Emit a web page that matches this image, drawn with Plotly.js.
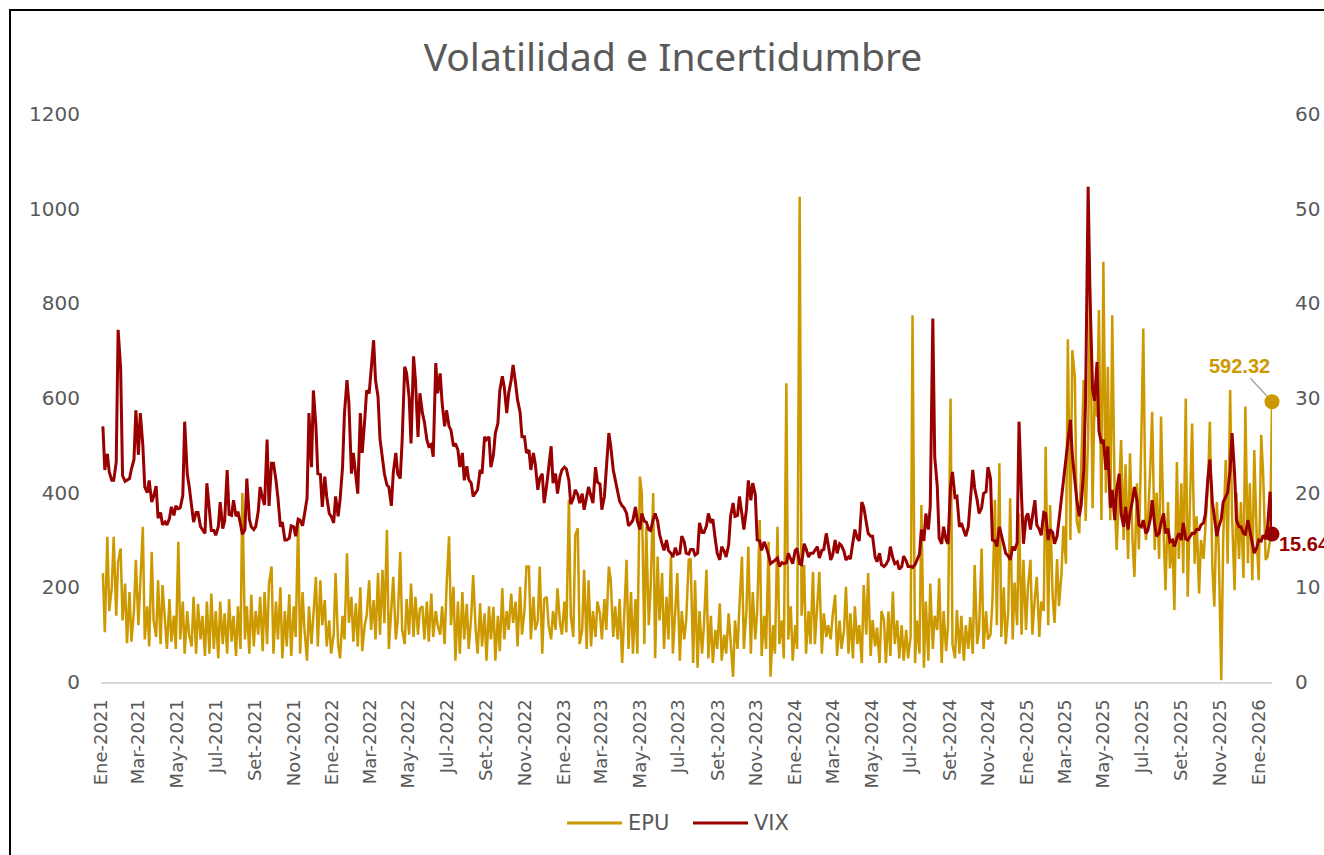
<!DOCTYPE html>
<html>
<head>
<meta charset="utf-8">
<script src="https://cdn.plot.ly/plotly-3.0.1.min.js"></script>
<style>
  html, body { margin: 0; padding: 0; background: #fff; overflow: hidden; width: 1324px; height: 855px; }
  #frame { position: absolute; left: 9px; top: 9px; width: 1400px; height: 900px; border-left: 2px solid #000; border-top: 2px solid #000; }
  #plot { position: absolute; left: 0; top: 0; width: 1360px; height: 855px; }
</style>
</head>
<body>
<div id="frame"></div>
<div id="plot"></div>
<script>
// EPU (eje izq.) y VIX (eje der.), lunes y jueves desde 2021-01-04, 8 valores por fila = 4 semanas
var epu = [
  230, 105, 307, 150, 200, 307, 140, 254,
  282, 130, 208, 82, 190, 85, 150, 258,
  120, 200, 328, 90, 160, 75, 275, 130,
  95, 215, 80, 205, 120, 70, 175, 85,
  140, 70, 296, 90, 170, 60, 150, 100,
  75, 180, 60, 165, 90, 140, 55, 170,
  60, 187, 70, 150, 50, 170, 80, 145,
  60, 175, 85, 140, 55, 160, 70, 399,
  90, 160, 60, 184, 75, 150, 100, 180,
  65, 190, 80, 208, 244, 60, 170, 90,
  200, 50, 150, 75, 185, 55, 160, 95,
  340, 60, 190, 110, 45, 160, 80, 140,
  222, 75, 215, 120, 173, 75, 130, 60,
  100, 230, 80, 50, 140, 90, 272, 125,
  180, 85, 166, 75, 200, 65, 120, 140,
  215, 110, 173, 90, 230, 100, 237, 124,
  321, 70, 150, 222, 90, 130, 275, 110,
  80, 175, 100, 208, 95, 180, 100, 155,
  160, 90, 170, 85, 187, 95, 150, 120,
  100, 160, 80, 200, 308, 120, 201, 45,
  170, 60, 190, 90, 165, 70, 140, 226,
  110, 60, 166, 75, 145, 45, 160, 90,
  159, 45, 140, 65, 198, 90, 150, 110,
  187, 125, 170, 75, 201, 100, 152, 244,
  244, 90, 180, 110, 130, 244, 60, 175,
  180, 120, 90, 150, 110, 198, 125, 100,
  170, 105, 385, 140, 95, 310, 325, 80,
  110, 237, 70, 215, 75, 150, 95, 170,
  145, 90, 175, 110, 244, 215, 95, 160,
  90, 175, 40, 120, 258, 70, 190, 60,
  175, 60, 434, 399, 80, 328, 120, 200,
  399, 50, 265, 130, 230, 70, 180, 90,
  265, 60, 160, 230, 45, 150, 90, 130,
  258, 261, 40, 215, 30, 150, 60, 120,
  237, 50, 140, 40, 110, 70, 166, 45,
  100, 60, 145, 85, 11, 130, 70, 160,
  265, 70, 150, 286, 60, 190, 90, 150,
  342, 55, 140, 70, 296, 11, 120, 60,
  328, 80, 130, 50, 631, 90, 160, 45,
  120, 70, 1025, 140, 247, 60, 150, 80,
  233, 80, 170, 233, 60, 145, 95, 120,
  90, 140, 184, 55, 130, 70, 110, 201,
  60, 145, 50, 160, 80, 120, 40, 205,
  100, 230, 55, 131, 75, 115, 40, 150,
  131, 40, 149, 55, 191, 80, 130, 50,
  120, 45, 110, 50, 95, 775, 40, 130,
  60, 374, 30, 170, 45, 208, 70, 140,
  110, 219, 40, 150, 65, 120, 599, 80,
  50, 152, 60, 140, 45, 120, 70, 137,
  60, 247, 80, 110, 282, 70, 150, 90,
  100, 170, 385, 120, 462, 95, 200, 80,
  150, 388, 90, 210, 120, 356, 100, 258,
  110, 200, 258, 100, 180, 222, 95, 170,
  150, 497, 120, 374, 180, 125, 260, 160,
  230, 330, 250, 724, 300, 701, 645, 340,
  314, 470, 638, 340, 520, 832, 367, 600,
  560, 786, 342, 888, 400, 666, 342, 775,
  380, 279, 420, 511, 300, 460, 260, 483,
  300, 222, 420, 280, 520, 747, 300, 332,
  450, 571, 279, 400, 260, 561, 320, 194,
  380, 240, 300, 152, 465, 260, 420, 230,
  599, 180, 400, 546, 250, 350, 187, 300,
  260, 335, 420, 550, 240, 159, 380, 280,
  4, 300, 469, 250, 617, 350, 194, 400,
  260, 380, 220, 582, 251, 420, 215, 490,
  300, 215, 522, 441, 258, 265, 300, 592.32
];

var vix = [
  27.0, 22.4, 24.1, 22.2, 21.3, 21.3, 23.2, 37.2,
  33.1, 21.8, 21.2, 21.3, 21.5, 22.5, 23.5, 28.7,
  24.0, 28.4, 25.0, 20.6, 20.0, 21.3, 19.0, 19.6,
  20.7, 17.3, 17.9, 16.6, 16.9, 16.6, 17.3, 18.5,
  17.6, 18.6, 18.3, 18.4, 19.7, 27.5, 22.0, 20.7,
  18.4, 16.9, 17.9, 17.9, 16.4, 16.1, 15.7, 21.0,
  17.9, 16.0, 16.0, 15.5, 16.4, 19.0, 16.2, 17.0,
  22.4, 17.7, 17.6, 19.2, 17.5, 18.0, 16.7, 15.6,
  16.1, 21.5, 17.2, 16.4, 16.1, 16.4, 18.0, 20.6,
  19.4, 18.7, 25.6, 18.6, 23.1, 23.1, 21.3, 19.5,
  16.4, 16.9, 15.0, 15.0, 15.2, 16.5, 16.4, 15.4,
  17.2, 17.1, 16.5, 17.6, 19.4, 28.4, 22.7, 30.8,
  27.0, 22.0, 21.9, 18.5, 21.7, 19.6, 17.8, 17.5,
  16.8, 19.6, 17.5, 19.2, 22.7, 28.4, 31.9, 29.5,
  22.0, 24.2, 21.3, 19.9, 28.4, 24.2, 27.7, 30.8,
  30.5, 33.0, 36.1, 31.9, 30.1, 25.7, 23.5, 22.0,
  20.8, 20.6, 18.6, 22.1, 24.2, 22.0, 21.5, 25.5,
  33.3, 32.6, 30.1, 25.2, 34.4, 31.9, 25.9, 30.5,
  28.4, 27.5, 25.6, 24.9, 25.1, 23.8, 33.7, 30.5,
  32.6, 29.5, 27.0, 28.7, 27.0, 26.6, 24.9, 25.2,
  24.5, 22.7, 24.2, 21.3, 22.8, 21.4, 21.0, 19.6,
  20.0, 20.3, 22.4, 22.0, 25.9, 25.6, 25.9, 22.7,
  24.0, 26.3, 27.3, 30.8, 32.3, 31.2, 28.4, 30.5,
  31.9, 33.5, 31.5, 29.8, 28.5, 25.9, 25.9, 24.2,
  24.5, 22.4, 24.2, 23.0, 20.3, 21.5, 22.0, 18.9,
  20.8, 22.7, 24.9, 21.0, 22.0, 19.9, 21.7, 22.4,
  22.7, 22.5, 21.3, 18.8, 19.4, 20.3, 19.8, 18.9,
  19.9, 18.2, 19.4, 20.6, 19.6, 18.9, 22.7, 21.1,
  20.9, 18.2, 19.6, 22.6, 26.3, 24.9, 22.4, 21.4,
  20.0, 19.1, 18.6, 18.4, 17.8, 16.5, 16.8, 17.1,
  18.5, 17.0, 16.1, 17.8, 17.0, 16.9, 16.1, 16.0,
  17.2, 17.8, 17.0, 15.6, 14.6, 13.9, 15.0, 13.9,
  13.6, 13.2, 14.2, 13.5, 13.6, 15.4, 14.8, 13.6,
  13.5, 14.0, 14.0, 13.4, 13.6, 16.8, 15.8, 15.8,
  16.5, 17.8, 16.8, 17.2, 15.0, 13.6, 12.9, 14.3,
  13.8, 13.2, 14.5, 17.5, 18.9, 17.5, 17.6, 19.6,
  17.7, 16.1, 18.2, 21.3, 19.2, 21.0, 19.8, 15.0,
  14.9, 13.9, 14.8, 14.3, 13.4, 12.5, 12.7, 12.9,
  13.1, 12.2, 12.6, 12.5, 12.6, 13.6, 13.0, 12.5,
  13.9, 14.1, 12.5, 12.4, 14.6, 14.1, 13.2, 13.6,
  13.6, 13.9, 14.3, 13.1, 13.9, 14.0, 15.7, 14.5,
  12.9, 13.4, 15.0, 13.6, 14.6, 14.4, 13.8, 12.9,
  13.2, 13.0, 14.6, 16.1, 15.2, 14.9, 19.0, 18.5,
  16.9, 15.7, 15.4, 15.4, 13.2, 12.7, 13.6, 12.4,
  12.2, 12.4, 12.9, 14.3, 13.1, 12.5, 12.7, 11.9,
  12.2, 13.3, 12.8, 12.2, 12.2, 12.1, 12.4, 12.9,
  13.5, 16.1, 14.9, 17.8, 16.1, 18.6, 38.4, 23.8,
  20.7, 15.2, 14.6, 16.4, 15.0, 14.6, 20.7, 22.2,
  19.5, 19.6, 16.4, 16.8, 15.9, 15.4, 16.4, 19.2,
  22.4, 20.5, 19.2, 17.8, 18.4, 19.9, 20.1, 22.7,
  21.5, 15.0, 14.9, 14.3, 16.4, 15.6, 14.3, 13.6,
  13.3, 12.9, 14.3, 13.9, 14.7, 27.5, 19.5, 14.6,
  17.4, 17.8, 16.1, 17.7, 19.2, 16.6, 16.1, 15.5,
  17.9, 17.8, 15.0, 16.1, 15.8, 14.6, 15.4, 17.1,
  19.5, 21.1, 23.1, 24.9, 27.7, 24.0, 21.3, 19.3,
  17.5, 18.7, 22.3, 30.0, 52.3, 40.7, 30.9, 29.7,
  33.8, 26.5, 25.2, 25.6, 22.4, 24.9, 18.4, 20.3,
  17.1, 20.3, 22.0, 17.8, 16.4, 18.5, 16.1, 17.8,
  19.2, 20.6, 19.2, 16.6, 16.4, 17.1, 15.7, 16.0,
  17.2, 19.2, 16.6, 15.4, 15.7, 16.8, 17.8, 15.7,
  16.2, 14.8, 15.0, 14.3, 15.2, 15.7, 15.0, 16.8,
  15.1, 15.0, 15.4, 15.7, 15.7, 16.1, 16.1, 16.6,
  16.8, 17.8, 21.7, 23.5, 19.0, 17.3, 15.4, 16.4,
  17.2, 19.0, 19.6, 20.0, 22.4, 26.3, 22.0, 17.1,
  16.4, 16.4, 15.7, 15.6, 17.1, 16.0, 14.3, 13.6,
  14.2, 15.0, 14.9, 15.5, 15.1, 16.4, 20.1, 15.64
];

var series = ['EPU', 'VIX'];
var meses = ['Ene', 'Feb', 'Mar', 'Abr', 'May', 'Jun', 'Jul', 'Ago', 'Set', 'Oct', 'Nov', 'Dic'];

var colEpu = '#CC9900';
var colVix = '#990000';
var gris = '#595959';

// fechas: lunes y jueves
function fechas(n) {
  var out = [];
  var t0 = Date.UTC(2021, 0, 4);
  for (var i = 0; i < n; i++) {
    var d = new Date(t0 + (Math.floor(i / 2) * 7 + (i % 2) * 3) * 86400000);
    out.push(d.toISOString().slice(0, 10));
  }
  return out;
}
var dates = fechas(epu.length);
var last = dates[dates.length - 1];
var epuLast = epu[epu.length - 1];
var vixLast = vix[vix.length - 1];

// ticks cada dos meses
var tickVals = [], tickText = [];
for (var y = 2021; y <= 2026; y++) {
  for (var m = 0; m < 12; m += 2) {
    if (y === 2026 && m > 0) break;
    tickVals.push(y + '-' + String(m + 1).padStart(2, '0') + '-01');
    tickText.push(meses[m] + '-' + y);
  }
}

var traces = [
  { x: dates, y: epu, name: series[0], type: 'scatter', mode: 'lines', yaxis: 'y',
    line: { color: colEpu, width: 2.5 } },
  { x: dates, y: vix, name: series[1], type: 'scatter', mode: 'lines', yaxis: 'y2',
    line: { color: colVix, width: 3 } },
  { x: [last], y: [epuLast], mode: 'markers', yaxis: 'y', cliponaxis: false,
    marker: { color: colEpu, size: 15 } },
  { x: [last], y: [vixLast], mode: 'markers', yaxis: 'y2', cliponaxis: false,
    marker: { color: colVix, size: 15 } }
];

var tickFont = { family: 'DejaVu Sans', size: 20, color: gris };

// leyenda dibujada a mano (muestra de linea larga como en Excel)
var pl = 101, pw = 1171, pb = 682, ph = 568;
function px(v) { return (v - pl) / pw; }
function py(v) { return (pb - v) / ph; }
var legY = py(823);
var legShapes = [
  { type: 'line', xref: 'paper', yref: 'paper', x0: px(567), x1: px(622), y0: legY, y1: legY,
    line: { color: colEpu, width: 3 } },
  { type: 'line', xref: 'paper', yref: 'paper', x0: px(693), x1: px(748), y0: legY, y1: legY,
    line: { color: colVix, width: 3 } }
];
var legFont = { family: 'DejaVu Sans', size: 21, color: gris };
var legNotes = [
  { xref: 'paper', yref: 'paper', x: px(626), y: legY, xanchor: 'left', yanchor: 'middle',
    text: series[0], showarrow: false, font: legFont },
  { xref: 'paper', yref: 'paper', x: px(752), y: legY, xanchor: 'left', yanchor: 'middle',
    text: series[1], showarrow: false, font: legFont }
];

var layout = {
  width: 1360,
  height: 855,
  margin: { l: pl, r: 1360 - pl - pw, t: pb - ph, b: 855 - pb },
  paper_bgcolor: 'rgba(0,0,0,0)',
  plot_bgcolor: 'rgba(0,0,0,0)',
  showlegend: false,
  title: {
    text: 'Volatilidad e Incertidumbre',
    font: { family: 'Noto Sans', size: 39, color: gris },
    xref: 'container', x: 673 / 1360, xanchor: 'center',
    yref: 'container', y: 1 - 57 / 855, yanchor: 'middle'
  },
  xaxis: {
    type: 'date',
    range: ['2021-01-01', last],
    tickvals: tickVals,
    ticktext: tickText,
    tickangle: -90,
    tickfont: { family: 'DejaVu Sans', size: 18, color: gris },
    ticks: '',
    ticklabelstandoff: 8,
    showline: true, linecolor: '#D9D9D9', linewidth: 2,
    showgrid: false, zeroline: false
  },
  yaxis: {
    range: [0, 1200], dtick: 200,
    tickfont: tickFont, ticklabelstandoff: 20,
    showgrid: false, zeroline: false, showline: false
  },
  yaxis2: {
    overlaying: 'y', side: 'right',
    range: [0, 60], dtick: 10,
    tickfont: tickFont, ticklabelstandoff: 22,
    showgrid: false, zeroline: false, showline: false
  },
  shapes: legShapes,
  annotations: [
    { x: last, y: epuLast, xref: 'x', yref: 'y',
      text: '<b>' + epuLast.toFixed(2) + '</b>',
      showarrow: true, arrowhead: 0, arrowwidth: 1.5, arrowcolor: '#A6A6A6',
      ax: -33, ay: -36, standoff: 8,
      font: { family: 'Liberation Sans', size: 20, color: colEpu } },
    { x: last, y: vixLast, xref: 'x', yref: 'y2',
      text: '<b>' + vixLast.toFixed(2) + '</b>',
      showarrow: false, xanchor: 'left', xshift: 5, yshift: -10,
      font: { family: 'Liberation Sans', size: 20, color: colVix } }
  ].concat(legNotes)
};

Plotly.newPlot('plot', traces, layout, { displayModeBar: false, staticPlot: true });
</script>
</body>
</html>
